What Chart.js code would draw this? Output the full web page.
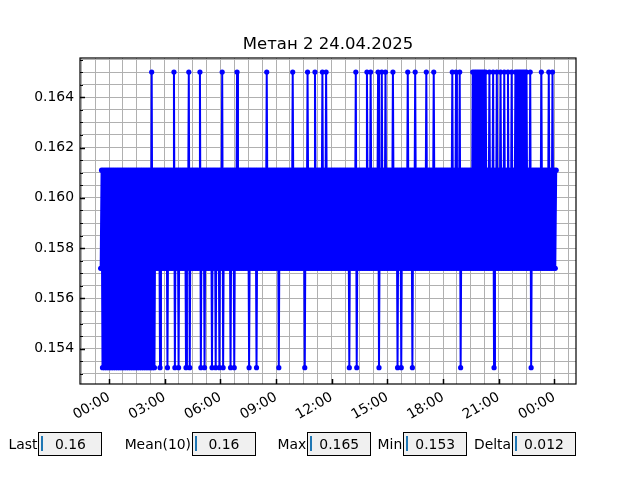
<!DOCTYPE html>
<html>
<head>
<meta charset="utf-8">
<script src="https://cdn.jsdelivr.net/npm/chart.js@4.4.1/dist/chart.umd.min.js"></script>
<style>
body { margin: 0; background: #fff; font-family: "DejaVu Sans", sans-serif; }
#wrap { position: relative; width: 640px; height: 480px; }
.lbl { position: absolute; top: 432px; height: 24px; line-height: 24px; font-size: 13.9px; color: #000; text-align: right; white-space: nowrap; }
.box { position: absolute; top: 432px; width: 64px; height: 24px; box-sizing: border-box; border: 1px solid #000; background: #f0f0f0; font-size: 13.9px; line-height: 22px; text-align: center; color: #000; }
.box i { position: absolute; left: 2px; top: 2.7px; width: 1.6px; height: 15px; background: #1f77b4; }
</style>
</head>
<body>
<div id="wrap">
  <canvas id="chart" width="640" height="480"></canvas>
</div>
<script>
// minutes from 24.04 00:00, one reading every 3 min
const times = [
  -27, -24, -21, -18, -15, -12, -9, -6, -3, 0, 3, 6, 9, 12, 15, 18, 21, 24, 27, 30,
  33, 36, 39, 42, 45, 48, 51, 54, 57, 60, 63, 66, 69, 72, 75, 78, 81, 84, 87, 90,
  93, 96, 99, 102, 105, 108, 111, 114, 117, 120, 123, 126, 129, 132, 135, 138, 141, 144, 147, 150,
  153, 156, 159, 162, 165, 168, 171, 174, 177, 180, 183, 186, 189, 192, 195, 198, 201, 204, 207, 210,
  213, 216, 219, 222, 225, 228, 231, 234, 237, 240, 243, 246, 249, 252, 255, 258, 261, 264, 267, 270,
  273, 276, 279, 282, 285, 288, 291, 294, 297, 300, 303, 306, 309, 312, 315, 318, 321, 324, 327, 330,
  333, 336, 339, 342, 345, 348, 351, 354, 357, 360, 363, 366, 369, 372, 375, 378, 381, 384, 387, 390,
  393, 396, 399, 402, 405, 408, 411, 414, 417, 420, 423, 426, 429, 432, 435, 438, 441, 444, 447, 450,
  453, 456, 459, 462, 465, 468, 471, 474, 477, 480, 483, 486, 489, 492, 495, 498, 501, 504, 507, 510,
  513, 516, 519, 522, 525, 528, 531, 534, 537, 540, 543, 546, 549, 552, 555, 558, 561, 564, 567, 570,
  573, 576, 579, 582, 585, 588, 591, 594, 597, 600, 603, 606, 609, 612, 615, 618, 621, 624, 627, 630,
  633, 636, 639, 642, 645, 648, 651, 654, 657, 660, 663, 666, 669, 672, 675, 678, 681, 684, 687, 690,
  693, 696, 699, 702, 705, 708, 711, 714, 717, 720, 723, 726, 729, 732, 735, 738, 741, 744, 747, 750,
  753, 756, 759, 762, 765, 768, 771, 774, 777, 780, 783, 786, 789, 792, 795, 798, 801, 804, 807, 810,
  813, 816, 819, 822, 825, 828, 831, 834, 837, 840, 843, 846, 849, 852, 855, 858, 861, 864, 867, 870,
  873, 876, 879, 882, 885, 888, 891, 894, 897, 900, 903, 906, 909, 912, 915, 918, 921, 924, 927, 930,
  933, 936, 939, 942, 945, 948, 951, 954, 957, 960, 963, 966, 969, 972, 975, 978, 981, 984, 987, 990,
  993, 996, 999, 1002, 1005, 1008, 1011, 1014, 1017, 1020, 1023, 1026, 1029, 1032, 1035, 1038, 1041, 1044, 1047, 1050,
  1053, 1056, 1059, 1062, 1065, 1068, 1071, 1074, 1077, 1080, 1083, 1086, 1089, 1092, 1095, 1098, 1101, 1104, 1107, 1110,
  1113, 1116, 1119, 1122, 1125, 1128, 1131, 1134, 1137, 1140, 1143, 1146, 1149, 1152, 1155, 1158, 1161, 1164, 1167, 1170,
  1173, 1176, 1179, 1182, 1185, 1188, 1191, 1194, 1197, 1200, 1203, 1206, 1209, 1212, 1215, 1218, 1221, 1224, 1227, 1230,
  1233, 1236, 1239, 1242, 1245, 1248, 1251, 1254, 1257, 1260, 1263, 1266, 1269, 1272, 1275, 1278, 1281, 1284, 1287, 1290,
  1293, 1296, 1299, 1302, 1305, 1308, 1311, 1314, 1317, 1320, 1323, 1326, 1329, 1332, 1335, 1338, 1341, 1344, 1347, 1350,
  1353, 1356, 1359, 1362, 1365, 1368, 1371, 1374, 1377, 1380, 1383, 1386, 1389, 1392, 1395, 1398, 1401, 1404, 1407, 1410,
  1413, 1416, 1419, 1422, 1425, 1428, 1431, 1434, 1437, 1440, 1443, 1446
];

const values = [
  0.1572, 0.1611, 0.15325, 0.1611, 0.15325, 0.1611, 0.15325, 0.1611, 0.15325, 0.1611, 0.15325, 0.1611, 0.15325, 0.1611, 0.15325, 0.1611, 0.15325, 0.1611, 0.15325, 0.1611,
  0.15325, 0.1611, 0.15325, 0.1611, 0.15325, 0.1611, 0.15325, 0.1611, 0.15325, 0.1611, 0.15325, 0.1611, 0.15325, 0.1611, 0.15325, 0.1611, 0.15325, 0.1611, 0.15325, 0.1611,
  0.15325, 0.1611, 0.15325, 0.1611, 0.15325, 0.1611, 0.15325, 0.1611, 0.15325, 0.1611, 0.15325, 0.1611, 0.15325, 0.1611, 0.15325, 0.165, 0.15325, 0.1611, 0.15325, 0.1611,
  0.1572, 0.1611, 0.1572, 0.1611, 0.15325, 0.1611, 0.1572, 0.1611, 0.1572, 0.1611, 0.1572, 0.1611, 0.15325, 0.1611, 0.1572, 0.1611, 0.1572, 0.1611, 0.1572, 0.165,
  0.15325, 0.1611, 0.1572, 0.1611, 0.15325, 0.1611, 0.1572, 0.1611, 0.1572, 0.1611, 0.1572, 0.1611, 0.15325, 0.1611, 0.1572, 0.165, 0.15325, 0.1611, 0.1572, 0.1611,
  0.1572, 0.1611, 0.1572, 0.1611, 0.1572, 0.1611, 0.1572, 0.165, 0.15325, 0.1611, 0.1572, 0.1611, 0.15325, 0.1611, 0.1572, 0.1611, 0.1572, 0.1611, 0.1572, 0.1611,
  0.15325, 0.1611, 0.1572, 0.1611, 0.15325, 0.1611, 0.1572, 0.1611, 0.15325, 0.1611, 0.1572, 0.165, 0.15325, 0.1611, 0.1572, 0.1611, 0.1572, 0.1611, 0.1572, 0.1611,
  0.15325, 0.1611, 0.1572, 0.1611, 0.15325, 0.1611, 0.1572, 0.165, 0.1572, 0.1611, 0.1572, 0.1611, 0.1572, 0.1611, 0.1572, 0.1611, 0.1572, 0.1611, 0.1572, 0.1611,
  0.15325, 0.1611, 0.1572, 0.1611, 0.1572, 0.1611, 0.1572, 0.1611, 0.15325, 0.1611, 0.1572, 0.1611, 0.1572, 0.1611, 0.1572, 0.1611, 0.1572, 0.1611, 0.1572, 0.165,
  0.1572, 0.1611, 0.1572, 0.1611, 0.1572, 0.1611, 0.1572, 0.1611, 0.1572, 0.1611, 0.1572, 0.1611, 0.15325, 0.1611, 0.1572, 0.1611, 0.1572, 0.1611, 0.1572, 0.1611,
  0.1572, 0.1611, 0.1572, 0.1611, 0.1572, 0.1611, 0.1572, 0.165, 0.1572, 0.1611, 0.1572, 0.1611, 0.1572, 0.1611, 0.1572, 0.1611, 0.1572, 0.1611, 0.1572, 0.1611,
  0.15325, 0.1611, 0.1572, 0.165, 0.1572, 0.1611, 0.1572, 0.1611, 0.1572, 0.1611, 0.1572, 0.165, 0.1572, 0.1611, 0.1572, 0.1611, 0.1572, 0.1611, 0.1572, 0.165,
  0.1572, 0.1611, 0.1572, 0.165, 0.1572, 0.1611, 0.1572, 0.1611, 0.1572, 0.1611, 0.1572, 0.1611, 0.1572, 0.1611, 0.1572, 0.1611, 0.1572, 0.1611, 0.1572, 0.1611,
  0.1572, 0.1611, 0.1572, 0.1611, 0.1572, 0.1611, 0.1572, 0.1611, 0.15325, 0.1611, 0.1572, 0.1611, 0.1572, 0.1611, 0.1572, 0.165, 0.15325, 0.1611, 0.1572, 0.1611,
  0.1572, 0.1611, 0.1572, 0.1611, 0.1572, 0.1611, 0.1572, 0.165, 0.1572, 0.1611, 0.1572, 0.165, 0.1572, 0.1611, 0.1572, 0.1611, 0.1572, 0.1611, 0.1572, 0.165,
  0.15325, 0.1611, 0.1572, 0.165, 0.1572, 0.1611, 0.1572, 0.165, 0.1572, 0.1611, 0.1572, 0.1611, 0.1572, 0.1611, 0.1572, 0.165, 0.1572, 0.1611, 0.1572, 0.1611,
  0.15325, 0.1611, 0.1572, 0.1611, 0.15325, 0.1611, 0.1572, 0.1611, 0.1572, 0.1611, 0.1572, 0.165, 0.1572, 0.1611, 0.1572, 0.1611, 0.15325, 0.1611, 0.1572, 0.165,
  0.1572, 0.1611, 0.1572, 0.1611, 0.1572, 0.1611, 0.1572, 0.1611, 0.1572, 0.1611, 0.1572, 0.165, 0.1572, 0.1611, 0.1572, 0.1611, 0.1572, 0.1611, 0.1572, 0.165,
  0.1572, 0.1611, 0.1572, 0.1611, 0.1572, 0.1611, 0.1572, 0.1611, 0.1572, 0.1611, 0.1572, 0.1611, 0.1572, 0.1611, 0.1572, 0.1611, 0.1572, 0.1611, 0.1572, 0.165,
  0.1572, 0.1611, 0.1572, 0.165, 0.1572, 0.1611, 0.1572, 0.165, 0.15325, 0.1611, 0.1572, 0.1611, 0.1572, 0.1611, 0.1572, 0.1611, 0.1572, 0.1611, 0.1572, 0.1611,
  0.1572, 0.165, 0.1572, 0.165, 0.1572, 0.165, 0.1572, 0.165, 0.1572, 0.165, 0.1572, 0.165, 0.1572, 0.165, 0.1572, 0.165, 0.1572, 0.1611, 0.1572, 0.165,
  0.1572, 0.1611, 0.1572, 0.165, 0.15325, 0.1611, 0.1572, 0.165, 0.1572, 0.1611, 0.1572, 0.165, 0.1572, 0.1611, 0.1572, 0.165, 0.1572, 0.1611, 0.1572, 0.165,
  0.1572, 0.1611, 0.1572, 0.165, 0.1572, 0.1611, 0.1572, 0.165, 0.1572, 0.165, 0.1572, 0.165, 0.1572, 0.165, 0.1572, 0.165, 0.1572, 0.165, 0.1572, 0.165,
  0.1572, 0.1611, 0.1572, 0.165, 0.15325, 0.1611, 0.1572, 0.1611, 0.1572, 0.1611, 0.1572, 0.1611, 0.1572, 0.1611, 0.1572, 0.165, 0.1572, 0.1611, 0.1572, 0.1611,
  0.1572, 0.1611, 0.1572, 0.165, 0.1572, 0.1611, 0.1572, 0.165, 0.1572, 0.1611, 0.1572, 0.1611
];

// grid (minor) and labelled ticks
const xGrid = [-90, -45, 0, 45, 90, 135, 180, 225, 270, 315, 360, 405, 450, 495, 540, 585,
  630, 675, 720, 765, 810, 855, 900, 945, 990, 1035, 1080, 1125, 1170, 1215, 1260, 1305,
  1350, 1395, 1440, 1485];
const xTicks = [0, 180, 360, 540, 720, 900, 1080, 1260, 1440];
const xLabels = ['00:00', '03:00', '06:00', '09:00', '12:00', '15:00', '18:00', '21:00', '00:00'];

const yGrid = [0.153, 0.1535, 0.154, 0.1545, 0.155, 0.1555, 0.156, 0.1565, 0.157, 0.1575,
  0.158, 0.1585, 0.159, 0.1595, 0.16, 0.1605, 0.161, 0.1615, 0.162, 0.1625,
  0.163, 0.1635, 0.164, 0.1645, 0.165, 0.1655];
const yTicks = [0.154, 0.156, 0.158, 0.16, 0.162, 0.164];

const widgetNames = ['Last', 'Mean(10)', 'Max', 'Min', 'Delta'];
const widgetValues = ['0.16', '0.16', '0.165', '0.153', '0.012'];
const widgetLeft = [38.4, 192, 307.2, 403.2, 512];

const wrap = document.getElementById('wrap');
widgetNames.forEach(function (name, i) {
    const lbl = document.createElement('div');
    lbl.className = 'lbl';
    lbl.style.right = (640 - widgetLeft[i] + 1) + 'px';
    lbl.textContent = name;
    wrap.appendChild(lbl);

    const box = document.createElement('div');
    box.className = 'box';
    box.style.left = widgetLeft[i] + 'px';
    box.innerHTML = '<i></i>' + widgetValues[i];
    wrap.appendChild(box);
});

const frame = {
    id: 'frame',
    afterDraw(chart) {
        const {ctx, chartArea: a, scales: {x, y}} = chart;
        ctx.save();
        ctx.strokeStyle = '#000';
        x.ticks.forEach(function (t) {
            if (!xTicks.includes(t.value)) return;
            const px = Math.round(x.getPixelForValue(t.value)) + 0.5;
            ctx.lineWidth = 1.5;
            ctx.beginPath();
            ctx.moveTo(px, a.bottom);
            ctx.lineTo(px, a.bottom - 5);
            ctx.stroke();
        });
        y.ticks.forEach(function (t) {
            const major = yTicks.includes(t.value);
            const py = Math.round(y.getPixelForValue(t.value)) + 0.5;
            ctx.lineWidth = major ? 1.5 : 1;
            ctx.beginPath();
            ctx.moveTo(a.left, py);
            ctx.lineTo(a.left + (major ? 5 : 3), py);
            ctx.stroke();
        });
        ctx.lineWidth = 1.2;
        ctx.strokeRect(a.left, a.top, a.right - a.left, a.bottom - a.top);
        ctx.restore();
    }
};

Chart.defaults.font.family = '"DejaVu Sans", sans-serif';
Chart.defaults.color = '#000';

const chart = new Chart(document.getElementById('chart'), {
    type: 'line',
    data: {
        datasets: [{
            data: times.map((t, i) => ({x: t, y: values[i]})),
            borderColor: '#0000ff',
            backgroundColor: '#0000ff',
            borderWidth: 2,
            pointRadius: 2.6,
            pointBorderWidth: 0,
            tension: 0
        }]
    },
    options: {
        responsive: false,
        animation: false,
        devicePixelRatio: 1,
        layout: {padding: {top: 0, left: 0, right: 64, bottom: 0}},
        plugins: {
            legend: {display: false},
            tooltip: {enabled: false},
            title: {
                display: true,
                fullSize: false,
                text: 'Метан 2 24.04.2025',
                color: '#000',
                font: {size: 16.5, weight: 'normal', lineHeight: 1.2},
                padding: {top: 35, bottom: 3.2}
            }
        },
        scales: {
            x: {
                type: 'linear',
                min: -93.8,
                max: 1510,
                afterBuildTicks: s => { s.ticks = xGrid.map(v => ({value: v})); },
                afterFit: s => { s.height = 96; },
                grid: {color: '#b0b0b0', lineWidth: 1, drawTicks: false},
                border: {display: false},
                ticks: {
                    autoSkip: false,
                    minRotation: 30,
                    maxRotation: 30,
                    padding: 5,
                    font: {size: 13.9},
                    callback: v => { const k = xTicks.indexOf(v); return k < 0 ? '' : xLabels[k]; }
                }
            },
            y: {
                min: 0.1526,
                max: 0.16556,
                afterBuildTicks: s => { s.ticks = yGrid.map(v => ({value: v})); },
                afterFit: s => { s.width = 80; },
                grid: {color: '#b0b0b0', lineWidth: 1, drawTicks: false},
                border: {display: false},
                ticks: {
                    autoSkip: false,
                    padding: 6,
                    font: {size: 13.9},
                    callback: v => yTicks.includes(v) ? v.toFixed(3) : ''
                }
            }
        }
    },
    plugins: [frame]
});
</script>
</body>
</html>
